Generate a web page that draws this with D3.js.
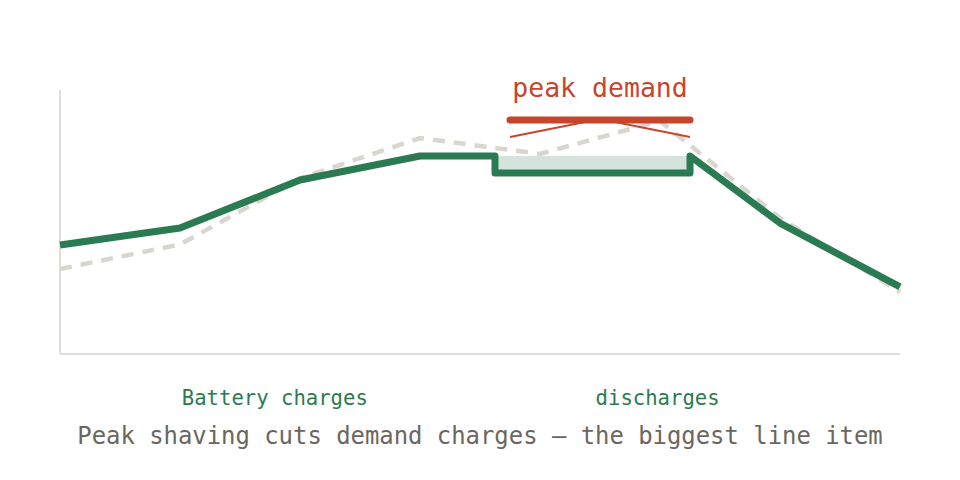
<!DOCTYPE html>
<html><head><meta charset="utf-8">
<script src="https://cdn.jsdelivr.net/npm/d3@7"></script>
<style>html,body{margin:0;padding:0;background:#fff;}svg{display:block;}</style>
</head><body>
<svg id="c" width="960" height="480"></svg>
<script>
// Data (hour index along x, load value along y)
const hours = [0, 1, 2, 3, 4, 5, 6, 7];
const originalLoad = [32.2, 41.5, 66.5, 81.8, 75.8, 88.3, 51.5, 23.5];
const shavedX = [0, 1, 2, 3, 3.625, 3.625, 5.25, 5.25, 6, 7];
const shavedLoad = [41.3, 47.7, 65.9, 75, 75, 68.6, 68.6, 75, 49.6, 25.4];
const bandX = [3.625, 5.25];
const bandTop = 75, bandBottom = 68.6;
const peakX = [3.75, 5.25];
const peakLevel = 88.6;
const peakShapeX = [3.75, 4.5, 5.25];
const peakShapeY = [82.2, 89, 82.2];
const labels = ["Battery charges", "discharges"];
const labelX = [1.79, 4.98];
const title = "peak demand";
const caption = "Peak shaving cuts demand charges \u2014 the biggest line item";

const svg = d3.select("#c");
const x = d3.scaleLinear().domain([0, 7]).range([60, 900]);
const y = d3.scaleLinear().domain([0, 100]).range([354, 90]);
const mono = "'DejaVu Sans Mono', 'Liberation Mono', monospace";
const green = "#2a7b51", red = "#c8452d", grey = "#d9d6cf";

// axes
svg.append("line").attr("x1", x(0)).attr("x2", x(0)).attr("y1", y(100)).attr("y2", y(0))
  .attr("stroke", "#e1ddd8").attr("stroke-width", 2);
svg.append("line").attr("x1", x(0)).attr("x2", x(7)).attr("y1", y(0)).attr("y2", y(0))
  .attr("stroke", "#e1ddd8").attr("stroke-width", 2);

// shaved band
svg.append("rect").attr("x", x(bandX[0])).attr("width", x(bandX[1]) - x(bandX[0]))
  .attr("y", y(bandTop)).attr("height", y(bandBottom) - y(bandTop))
  .attr("fill", "#d4e4dc");

// original load (dashed)
const line = d3.line().x(d => x(d[0])).y(d => y(d[1]));
svg.append("path").datum(hours.map((h, i) => [h, originalLoad[i]]))
  .attr("d", line).attr("fill", "none").attr("stroke", grey)
  .attr("stroke-width", 4.5).attr("stroke-dasharray", "12,9");

// shaved load
svg.append("path").datum(shavedX.map((h, i) => [h, shavedLoad[i]]))
  .attr("d", line).attr("fill", "none").attr("stroke", green)
  .attr("stroke-width", 7).attr("stroke-linejoin", "round");

// peak marker
svg.append("path").datum(peakShapeX.map((h, i) => [h, peakShapeY[i]]))
  .attr("d", line).attr("fill", "none").attr("stroke", red).attr("stroke-width", 2);
svg.append("line").attr("x1", x(peakX[0])).attr("x2", x(peakX[1]))
  .attr("y1", y(peakLevel)).attr("y2", y(peakLevel))
  .attr("stroke", red).attr("stroke-width", 7).attr("stroke-linecap", "round");

svg.append("text").attr("x", x((peakX[0] + peakX[1]) / 2)).attr("y", 97)
  .attr("text-anchor", "middle").attr("font-family", mono).attr("font-size", 26.5)
  .attr("fill", red).text(title);

labels.forEach((t, i) => {
  svg.append("text").attr("x", x(labelX[i])).attr("y", 405)
    .attr("text-anchor", "middle").attr("font-family", mono).attr("font-size", 20.6)
    .attr("fill", green).text(t);
});

svg.append("text").attr("x", 480).attr("y", 444)
  .attr("text-anchor", "middle").attr("font-family", mono).attr("font-size", 23.9)
  .attr("fill", "#6b6660").text(caption);
</script>
</body></html>
